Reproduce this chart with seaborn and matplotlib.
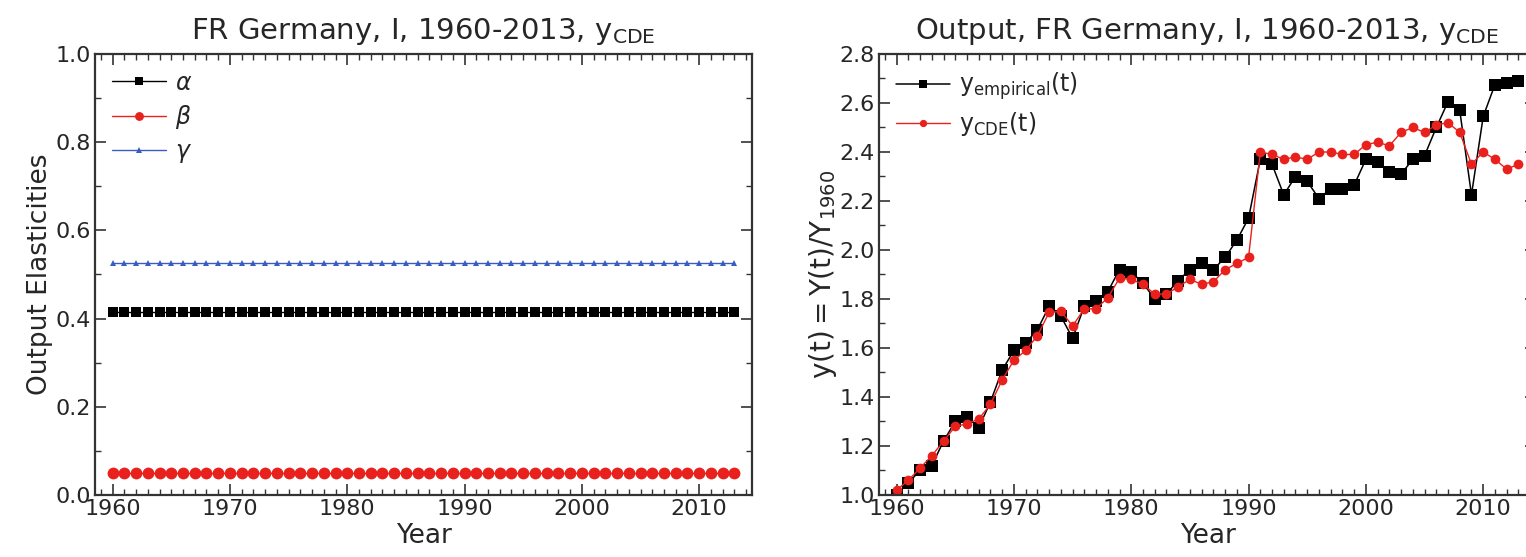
import numpy as np
import pandas as pd
import matplotlib
matplotlib.use("Agg")
import matplotlib.pyplot as plt
from matplotlib.ticker import MultipleLocator
import seaborn as sns

# years covered by both panels
years = list(range(1960, 2014))

# output elasticities (constant over the period)
alpha_val = 0.415
beta_val = 0.05
gamma_val = 0.525

# output relative to 1960
y_empirical = [
    1.00, 1.05, 1.10, 1.12, 1.22, 1.30, 1.32, 1.275, 1.38, 1.51,
    1.59, 1.62, 1.675, 1.77, 1.73, 1.64, 1.77, 1.79, 1.83, 1.92,
    1.91, 1.865, 1.80, 1.82, 1.875, 1.92, 1.945, 1.92, 1.97, 2.04,
    2.13, 2.37, 2.35, 2.225, 2.30, 2.28, 2.21, 2.25, 2.25, 2.265,
    2.37, 2.36, 2.32, 2.31, 2.37, 2.385, 2.50, 2.605, 2.57, 2.225,
    2.545, 2.675, 2.68, 2.69,
]
y_cde = [
    1.02, 1.06, 1.11, 1.16, 1.22, 1.28, 1.29, 1.31, 1.37, 1.47,
    1.55, 1.59, 1.65, 1.745, 1.75, 1.69, 1.76, 1.76, 1.805, 1.885,
    1.88, 1.86, 1.82, 1.82, 1.85, 1.88, 1.86, 1.87, 1.92, 1.945,
    1.97, 2.40, 2.39, 2.37, 2.38, 2.37, 2.40, 2.40, 2.39, 2.39,
    2.43, 2.44, 2.425, 2.48, 2.50, 2.48, 2.51, 2.52, 2.48, 2.35,
    2.40, 2.37, 2.33, 2.35,
]

df_el = pd.DataFrame({
    'Year': years,
    'alpha': [alpha_val] * len(years),
    'beta': [beta_val] * len(years),
    'gamma': [gamma_val] * len(years),
})
df_out = pd.DataFrame({'Year': years, 'emp': y_empirical, 'cde': y_cde})

sns.set_style("ticks")
plt.rcParams['font.family'] = ['DejaVu Sans']
plt.rcParams['mathtext.fontset'] = 'dejavusans'

RED = '#e8211d'
BLUE = '#3a5cc2'

W, H = 1526, 557
fig = plt.figure(figsize=(W / 100, H / 100), dpi=100)
ax1 = fig.add_axes([95 / W, 1 - 495 / H, 657 / W, 441 / H])
ax2 = fig.add_axes([879 / W, 1 - 495 / H, 657 / W, 441 / H])

# left panel: elasticities
sns.lineplot(data=df_el, x='Year', y='alpha', ax=ax1, color='black', marker='s',
             markersize=7.2, markeredgewidth=0, linewidth=1, label=r'$\alpha$')
sns.lineplot(data=df_el, x='Year', y='beta', ax=ax1, color=RED, marker='o',
             markersize=8.5, markeredgewidth=0, linewidth=1, label=r'$\beta$')
sns.lineplot(data=df_el, x='Year', y='gamma', ax=ax1, color=BLUE, marker='^',
             markersize=5, markeredgewidth=0, linewidth=1, label=r'$\gamma$')
ax1.set_ylim(0, 1.0)
ax1.yaxis.set_major_locator(MultipleLocator(0.2))
ax1.yaxis.set_minor_locator(MultipleLocator(0.1))
ax1.set_ylabel('Output Elasticities', fontsize=19, labelpad=2)
ax1.set_title(r'FR Germany, I, 1960-2013, $\mathrm{y_{CDE}}$', fontsize=21, pad=11)

# right panel: output
sns.lineplot(data=df_out, x='Year', y='emp', ax=ax2, color='black', marker='s',
             markersize=8, markeredgewidth=0, linewidth=1.1,
             label=r'$\mathrm{y_{empirical}(t)}$')
sns.lineplot(data=df_out, x='Year', y='cde', ax=ax2, color=RED, marker='o',
             markersize=7, markeredgewidth=0, linewidth=1,
             label=r'$\mathrm{y_{CDE}(t)}$')
ax2.set_ylim(1.0, 2.8)
ax2.yaxis.set_major_locator(MultipleLocator(0.2))
ax2.yaxis.set_minor_locator(MultipleLocator(0.1))
ax2.set_ylabel(r'$\mathrm{y(t)= Y(t)/Y_{1960}}$', fontsize=20, labelpad=0)
ax2.set_title(r'Output, FR Germany, I, 1960-2013, $\mathrm{y_{CDE}}$', fontsize=21, pad=11)

for ax in (ax1, ax2):
    ax.set_xlim(1958.5, 2014.5)
    ax.xaxis.set_major_locator(MultipleLocator(10))
    ax.xaxis.set_minor_locator(MultipleLocator(1))
    ax.set_xlabel('Year', fontsize=19, labelpad=3)
    ax.tick_params(which='both', direction='in', top=True, right=True,
                   labelsize=16, color='#333333', pad=3)
    ax.tick_params(which='major', length=8, width=1.2)
    ax.tick_params(which='minor', length=4, width=1)
    for sp in ax.spines.values():
        sp.set_linewidth(1.6)
        sp.set_color('#333333')
    ax.legend(loc='upper left', frameon=False, fontsize=17, numpoints=1,
              markerscale=0.75, handlelength=2.3, borderaxespad=0.4,
              labelspacing=0.35, handletextpad=0.4, borderpad=0.3)

fig.savefig('out.png', dpi=100)
